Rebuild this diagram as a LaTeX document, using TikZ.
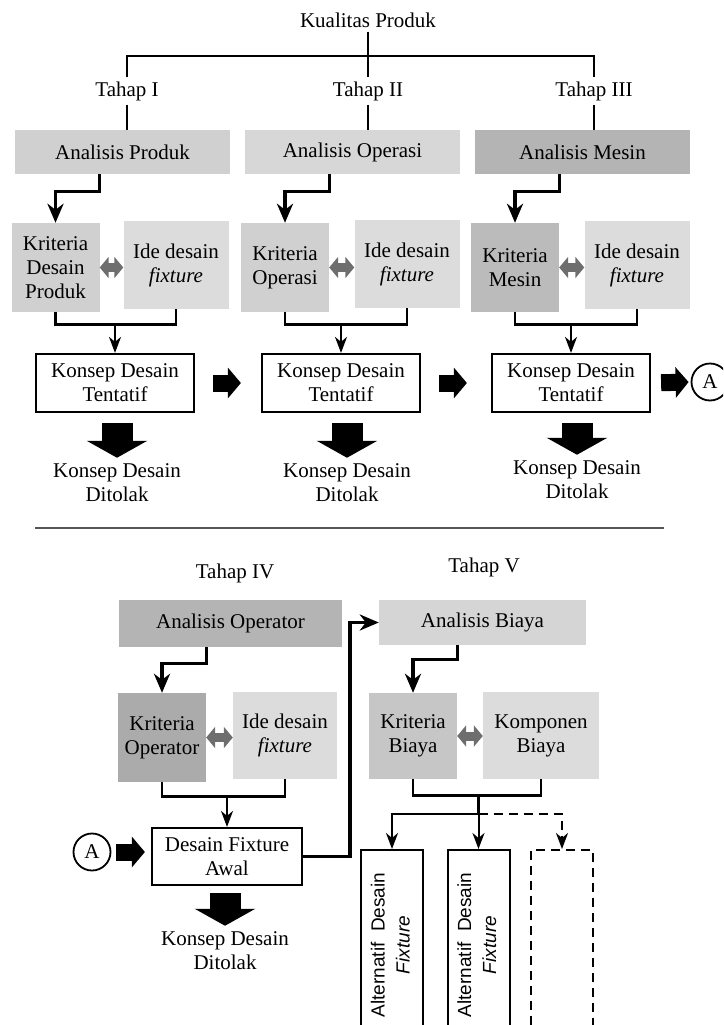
\documentclass[tikz,border=0pt]{standalone}
\usepackage{fontspec}
\setmainfont{Liberation Serif}
\newfontfamily\altsans{Liberation Sans}
\usepackage{xcolor}
\usepackage{tikz}
\usetikzlibrary{calc,arrows.meta,positioning}
\definecolor{gdark}{HTML}{B4B4B4}
\definecolor{gmid}{HTML}{D0D0D0}
\definecolor{glite}{HTML}{DCDCDC}
\definecolor{dblc}{HTML}{6E6E6E}
\definecolor{sepc}{HTML}{555555}
\tikzset{
  ln/.style={line width=1.4pt},
  el/.style={-{Stealth[length=19pt,width=16pt,inset=6pt]},line width=3.4pt},
  mg/.style={line width=2.6pt},
  ar/.style={-{Stealth[length=16pt,width=12pt,inset=5pt]},line width=2pt},
  dbl/.style={{Triangle[length=9pt,width=21pt]}-{Triangle[length=9pt,width=21pt]},line width=9pt,dblc},
  blk/.style={-{Triangle[length=13pt,width=30pt]},line width=17pt},
  rej/.style={-{Triangle[length=17pt,width=60pt]},line width=31pt},
  lbl/.style={inner sep=4pt,align=center},
  ana/.style={minimum width=215pt,minimum height=44pt,inner sep=0pt},
  crit/.style={minimum width=88pt,minimum height=89pt,inner sep=0pt,align=center},
  idea/.style={minimum width=105pt,minimum height=88pt,inner sep=0pt,align=center,fill=glite},
  kbox/.style={draw,line width=2.2pt,fill=white,minimum width=158pt,minimum height=58pt,inner sep=0pt,align=center},
  alt/.style={draw,line width=2pt,minimum width=62pt,minimum height=190pt,inner sep=0pt,
    font=\altsans\fontsize{19}{25}\selectfont},
  cA/.style={draw,circle,line width=1.8pt,minimum size=37pt,inner sep=0pt}
}
\newcommand{\altlabel}{\rotatebox{90}{\begin{tabular}{@{}c@{}}Alternatif\ \ Desain\\\textit{Fixture}\end{tabular}}}

\begin{document}
\begin{tikzpicture}[x=1pt,y=-1pt,font=\fontsize{21}{24}\selectfont]
\useasboundingbox (0,0) rectangle (723,1025);
\clip (0,0) rectangle (723,1025);
% tree on top
\node[lbl] (top) at (368,20) {Kualitas Produk};
\node[lbl] (t1) at (127,91) {Tahap I};
\node[lbl] (t2) at (368,91) {Tahap II};
\node[lbl] (t3) at (594,91) {Tahap III};
\coordinate (bar) at (368,56);
\draw[ln] (top.south) -- (top.south |- t2.north);
\draw[ln] (t1.north) |- (bar) -| (t3.north);
% stages I - III
\node[ana,fill=gmid] (ap) at (122.5,152) {Analisis Produk};
\node[ana,fill=gmid!85!white] (ao) at (352.5,152) {Analisis Operasi};
\node[ana,fill=gdark] (am) at (582.5,152) {Analisis Mesin};
\foreach \t/\a in {t1/ap,t2/ao,t3/am}
  \draw[ln] (\t.south) -- (\t.south |- \a.north);
\node[crit,fill=gmid] (kd) at (55.5,267.5) {Kriteria\\Desain\\Produk};
\node[idea] (i1) at (176,265) {Ide desain\\\textit{fixture}};
\node[crit,fill=gmid] (ko) at (285,267.5) {Kriteria\\Operasi};
\node[idea] (i2) at (407,264) {Ide desain\\\textit{fixture}};
\node[crit,fill=gdark!90!white] (km) at (515,267.5) {Kriteria\\Mesin};
\node[idea] (i3) at (637,265) {Ide desain\\\textit{fixture}};
\node[kbox] (k1) at (115,383) {Konsep Desain\\Tentatif};
\node[kbox] (k2) at (341,383) {Konsep Desain\\Tentatif};
\node[kbox] (k3) at (571,383) {Konsep Desain\\Tentatif};
\node[lbl] (r1) at (117,483) {Konsep Desain\\Ditolak};
\node[lbl] (r2) at (347,483) {Konsep Desain\\Ditolak};
\node[lbl] (r3) at (577,480) {Konsep Desain\\Ditolak};
\node[cA] (a1) at (710,382) {A};
\foreach \a/\c/\i/\k/\r in {ap/kd/i1/k1/r1,ao/ko/i2/k2/r2,am/km/i3/k3/r3}{
  \draw[el] (\a.south -| \c.north east) -- ++(0,17) -| (\c.north);
  \draw[dbl] (\c.east) -- (\c.east -| \i.west);
  \draw[mg] (\c.south) -- ++(0,12) coordinate (m\k) -| (\i.south);
  \draw[ar] (m\k -| \k.north) -- (\k.north);
  \draw[rej,shorten <=10pt,shorten >=2pt] (\r.north |- \k.south) -- (\r.north);
}
\draw[blk,shorten <=18pt,shorten >=20pt] (k1.east) -- (k2.west);
\draw[blk,shorten <=18pt,shorten >=24pt] (k2.east) -- (k3.west);
\draw[blk,shorten <=10pt,shorten >=2pt] (k3.east) -- (a1.west);
\draw[sepc,line width=1.5pt] (35,528) -- (664,528);
% stage IV
\node[lbl] (t4) at (235,573) {Tahap IV};
\node[ana,fill=gdark,minimum width=223pt,minimum height=47pt] (aop) at (230.5,623.5) {Analisis Operator};
\node[crit,fill=gdark!95!black] (kop) at (162,737.5) {Kriteria\\Operator};
\node[idea,minimum width=104pt,minimum height=87pt] (i4) at (285,735.5) {Ide desain\\\textit{fixture}};
\node[kbox,minimum width=150pt,minimum height=57pt] (dfa) at (227,856.5) {Desain Fixture\\Awal};
\node[lbl] (r4) at (225,951) {Konsep Desain\\Ditolak};
\node[cA] (a2) at (92,852) {A};
\draw[el] (aop.south -| kop.north east) -- ++(0,16) -| (kop.north);
\draw[dbl] (kop.east) -- (kop.east -| i4.west);
\draw[mg] (kop.south) -- ++(0,14) coordinate (m4) -| (i4.south);
\draw[ar] (m4 -| dfa.north) -- (dfa.north);
\draw[rej,shorten <=7pt,shorten >=2pt] (r4.north |- dfa.south) -- (r4.north);
\draw[blk,shorten <=5pt,shorten >=6pt] (a2.east) -- (a2.east -| dfa.west);
% stage V
\node[lbl] (t5) at (484,567) {Tahap V};
\node[ana,fill=gmid!90!white,minimum width=207pt,minimum height=45pt] (ab) at (482.5,622.5) {Analisis Biaya};
\node[crit,fill=gmid!95!black,minimum height=86pt] (kb) at (413,736) {Kriteria\\Biaya};
\node[idea,minimum width=116pt,minimum height=87pt] (kmp) at (541,735.5) {Komponen\\Biaya};
\node[alt] (f1) at (392,945) {\altlabel};
\node[alt] (f2) at (478.5,945) {\altlabel};
\node[alt,dashed,dash pattern=on 9pt off 6pt] (f3) at (562,945) {};
\coordinate (up) at (350,0);
\draw[el] (dfa.east) -- (dfa.east -| up) |- (ab.west);
\draw[el] (ab.south -| kb.north east) -- ++(0,14) -| (kb.north);
\draw[dbl] (kb.east) -- (kb.east -| kmp.west);
\draw[mg] (kb.south) -- ++(0,16) coordinate (m5) -| (kmp.south);
\draw[mg] (m5 -| f2.north) -- ++(0,19) coordinate (b5);
\draw[ar] (b5) -- (f2.north);
\draw[ar] (b5) -| (f1.north);
\draw[ar,dashed,dash pattern=on 9pt off 6pt] (b5) -| (f3.north);
\end{tikzpicture}
\end{document}
